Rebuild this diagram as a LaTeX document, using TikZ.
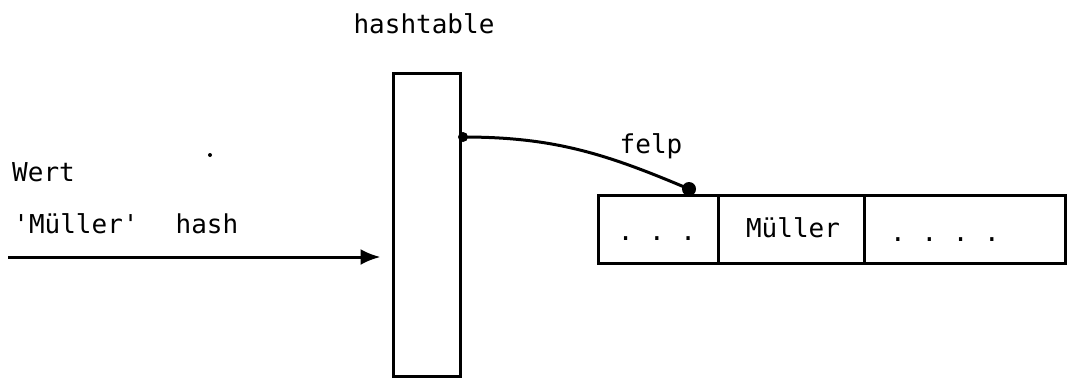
\documentclass[tikz,border=0pt]{standalone}
\usepackage{fontspec}
\newfontfamily\twfont{DejaVu Sans Mono}
\usetikzlibrary{arrows.meta}
\begin{document}
\begin{tikzpicture}[x=1pt,y=-1pt,
  lbl/.style={font=\twfont\fontsize{26}{30}\selectfont, inner sep=0pt},
  box/.style={draw, line width=3pt, inner sep=0pt, minimum width=#1},
  blob/.style={circle, fill, inner sep=0pt, minimum size=#1},
  conn/.style={line width=3pt}]
\useasboundingbox (0,0) rectangle (1068,378);
% hashtable column
\node[box=67pt, minimum height=303pt] (ht) at (426.5,224.5) {};
\node[lbl, anchor=base] (htl) at (424,33) {hashtable};
% input
\node[lbl, anchor=base west] (wert) at (12,181) {Wert};
\node[lbl, anchor=base] (mue) at (76,233) {'Müller'};
\node[lbl, anchor=base] (hash) at (207,233) {hash};
\node[blob=4pt] (speck) at (210,155) {};
\coordinate (in) at (8,257);
\draw[conn, -{Latex[length=20pt,width=16pt]}, shorten >=11pt] (in) -- (in -| ht.west);
% array
\node[box=120pt, minimum height=68pt] (c1) at (658,229) {};
\node[box=146pt, minimum height=68pt] (c2) at (791,229) {};
\node[box=201pt, minimum height=68pt] (c3) at (964.5,229) {};
\node[lbl, anchor=base] (d1) at (657,240) {.\ .\ .};
\node[lbl, anchor=base] (m2) at (793,237) {Müller};
\node[lbl, anchor=base] (d3) at (945,241) {.\ .\ .\ .};
% pointer
\node[blob=10pt] (src) at (463,137) {};
\node[blob=14pt] (tgt) at (689,189) {};
\draw[conn] (src.center) to[out=0, in=157] (tgt.center);
\node[lbl, anchor=base] (felp) at (651,153) {felp};
\end{tikzpicture}
\end{document}
